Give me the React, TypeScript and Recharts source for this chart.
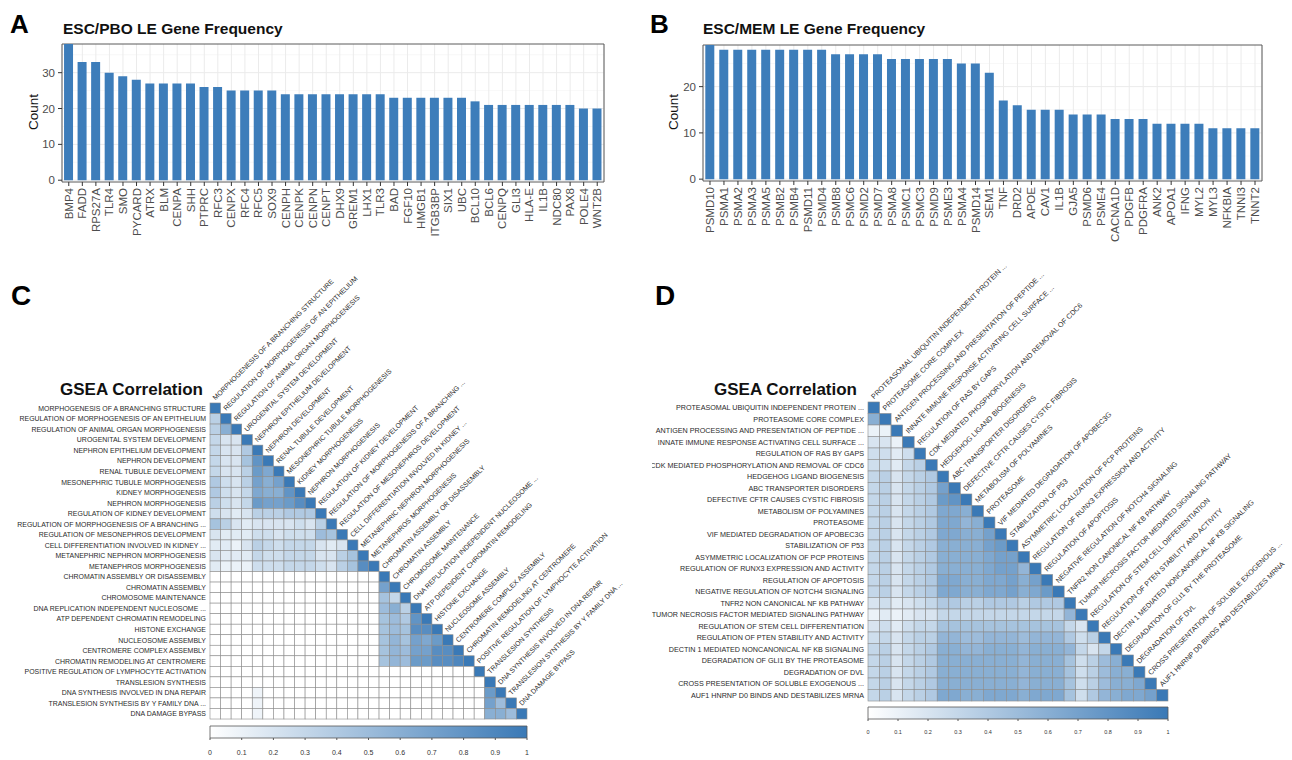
import React from 'react';
import {
  BarChart, Bar, XAxis, YAxis, CartesianGrid, ReferenceArea,
  ScatterChart, Scatter, ComposedChart, Line,
} from 'recharts';

const FONT = '"Liberation Sans", Arial, Helvetica, sans-serif';
const BAR_COLOR = '#3D7DBA';
const HI = [58, 121, 182];

// ---------- Panel A data ----------
const genesA = ['BMP4','FADD','RPS27A','TLR4','SMO','PYCARD','ATRX','BLM','CENPA','SHH','PTPRC','RFC3','CENPX','RFC4','RFC5','SOX9','CENPH','CENPK','CENPN','CENPT','DHX9','GREM1','LHX1','TLR3','BAD','FGF10','HMGB1','ITGB3BP','SIX1','UBC','BCL10','BCL6','CENPQ','GLI3','HLA-E','IL1B','NDC80','PAX8','POLE4','WNT2B'];
const countsA = [38,33,33,30,29,28,27,27,27,27,26,26,25,25,25,25,24,24,24,24,24,24,24,24,23,23,23,23,23,23,22,21,21,21,21,21,21,21,20,20];
const yTicksA = [0, 10, 20, 30];
const yMinorA = [5, 15, 25, 35];

// ---------- Panel B data ----------
const genesB = ['PSMD10','PSMA1','PSMA2','PSMA3','PSMA5','PSMB2','PSMB4','PSMD11','PSMD4','PSMB8','PSMC6','PSMD2','PSMD7','PSMA8','PSMC1','PSMC3','PSMD9','PSME3','PSMA4','PSMD14','SEM1','TNF','DRD2','APOE','CAV1','IL1B','GJA5','PSMD6','PSME4','CACNA1D','PDGFB','PDGFRA','ANK2','APOA1','IFNG','MYL2','MYL3','NFKBIA','TNNI3','TNNT2'];
const countsB = [29,28,28,28,28,28,28,28,28,27,27,27,27,26,26,26,26,26,25,25,23,17,16,15,15,15,14,14,14,13,13,13,12,12,12,12,11,11,11,11];
const yTicksB = [0, 10, 20];
const yMinorB = [5, 15, 25];

// ---------- Panel C data ----------
const termsC = [
  'MORPHOGENESIS OF A BRANCHING STRUCTURE',
  'REGULATION OF MORPHOGENESIS OF AN EPITHELIUM',
  'REGULATION OF ANIMAL ORGAN MORPHOGENESIS',
  'UROGENITAL SYSTEM DEVELOPMENT',
  'NEPHRON EPITHELIUM DEVELOPMENT',
  'NEPHRON DEVELOPMENT',
  'RENAL TUBULE DEVELOPMENT',
  'MESONEPHRIC TUBULE MORPHOGENESIS',
  'KIDNEY MORPHOGENESIS',
  'NEPHRON MORPHOGENESIS',
  'REGULATION OF KIDNEY DEVELOPMENT',
  'REGULATION OF MORPHOGENESIS OF A BRANCHING ...',
  'REGULATION OF MESONEPHROS DEVELOPMENT',
  'CELL DIFFERENTIATION INVOLVED IN KIDNEY ...',
  'METANEPHRIC NEPHRON MORPHOGENESIS',
  'METANEPHROS MORPHOGENESIS',
  'CHROMATIN ASSEMBLY OR DISASSEMBLY',
  'CHROMATIN ASSEMBLY',
  'CHROMOSOME MAINTENANCE',
  'DNA REPLICATION INDEPENDENT NUCLEOSOME ...',
  'ATP DEPENDENT CHROMATIN REMODELING',
  'HISTONE EXCHANGE',
  'NUCLEOSOME ASSEMBLY',
  'CENTROMERE COMPLEX ASSEMBLY',
  'CHROMATIN REMODELING AT CENTROMERE',
  'POSITIVE REGULATION OF LYMPHOCYTE ACTIVATION',
  'TRANSLESION SYNTHESIS',
  'DNA SYNTHESIS INVOLVED IN DNA REPAIR',
  'TRANSLESION SYNTHESIS BY Y FAMILY DNA ...',
  'DNA DAMAGE BYPASS',
];
// lower triangle (row i holds columns 0..i-1); diagonal = 1
const corrC: number[][] = [
  [],
  [0.35],
  [0.35, 0.6],
  [0.3, 0.2, 0.2],
  [0.3, 0.2, 0.2, 0.4],
  [0.3, 0.2, 0.2, 0.45, 0.8],
  [0.3, 0.2, 0.2, 0.35, 0.75, 0.65],
  [0.4, 0.25, 0.2, 0.35, 0.7, 0.6, 0.7],
  [0.4, 0.25, 0.2, 0.3, 0.65, 0.6, 0.6, 0.8],
  [0.35, 0.25, 0.2, 0.3, 0.75, 0.7, 0.7, 0.75, 0.85],
  [0.25, 0.2, 0.15, 0.2, 0.35, 0.35, 0.35, 0.4, 0.4, 0.4],
  [0.45, 0.35, 0.2, 0.15, 0.2, 0.2, 0.2, 0.2, 0.25, 0.2, 0.35],
  [0.2, 0.15, 0.15, 0.15, 0.25, 0.25, 0.2, 0.25, 0.25, 0.25, 0.5, 0.45],
  [0.15, 0.15, 0.1, 0.2, 0.35, 0.3, 0.25, 0.3, 0.3, 0.3, 0.2, 0.15, 0.2],
  [0.2, 0.15, 0.15, 0.15, 0.3, 0.25, 0.25, 0.3, 0.3, 0.3, 0.2, 0.2, 0.35, 0.45],
  [0.15, 0.1, 0.1, 0.1, 0.25, 0.25, 0.25, 0.3, 0.3, 0.3, 0.25, 0.2, 0.35, 0.45, 0.85],
  [0,0,0,0, 0,0,0,0, 0,0,0,0, 0,0,0,0],
  [0,0,0,0, 0,0,0,0, 0,0,0,0, 0,0,0,0, 0.7],
  [0,0,0,0, 0,0,0,0, 0,0,0,0, 0,0,0,0, 0.45, 0.3],
  [0,0,0,0, 0,0,0,0, 0,0,0,0, 0,0,0,0, 0.5, 0.6, 0.35],
  [0,0,0,0, 0,0,0,0, 0,0,0,0, 0,0,0,0, 0.45, 0.5, 0.4, 0.8],
  [0,0,0,0, 0,0,0,0, 0,0,0,0, 0,0,0,0, 0.45, 0.5, 0.45, 0.85, 0.85],
  [0,0,0,0, 0,0,0,0, 0,0,0,0, 0,0,0,0, 0.45, 0.55, 0.45, 0.7, 0.65, 0.75],
  [0,0,0,0, 0,0,0,0, 0,0,0,0, 0,0,0,0, 0.45, 0.55, 0.5, 0.7, 0.7, 0.85, 0.85],
  [0,0,0,0, 0,0,0,0, 0,0,0,0, 0,0,0,0, 0.45, 0.55, 0.5, 0.75, 0.75, 0.85, 0.85, 0.9],
  [0,0,0,0,0, 0,0,0,0,0, 0,0,0,0,0, 0,0,0,0,0, 0,0,0,0,0],
  [0,0,0,0,0, 0,0,0,0,0, 0,0,0,0,0, 0,0,0,0,0, 0,0,0,0,0, 0],
  [0,0,0,0,0.08, 0,0,0,0,0, 0,0,0,0,0, 0,0,0,0,0, 0,0,0,0,0, 0, 0.75],
  [0,0,0,0,0.08, 0,0,0,0,0, 0,0,0,0,0, 0,0,0,0,0, 0,0,0,0,0, 0, 0.7, 0.5],
  [0,0,0,0,0.08, 0,0,0,0,0, 0,0,0,0,0, 0,0,0,0,0, 0,0,0,0,0, 0, 0.6, 0.6, 0.5],
];

// ---------- Panel D data ----------
const termsD = [
  'PROTEASOMAL UBIQUITIN INDEPENDENT PROTEIN ...',
  'PROTEASOME CORE COMPLEX',
  'ANTIGEN PROCESSING AND PRESENTATION OF PEPTIDE ...',
  'INNATE IMMUNE RESPONSE ACTIVATING CELL SURFACE ...',
  'REGULATION OF RAS BY GAPS',
  'CDK MEDIATED PHOSPHORYLATION AND REMOVAL OF CDC6',
  'HEDGEHOG LIGAND BIOGENESIS',
  'ABC TRANSPORTER DISORDERS',
  'DEFECTIVE CFTR CAUSES CYSTIC FIBROSIS',
  'METABOLISM OF POLYAMINES',
  'PROTEASOME',
  'VIF MEDIATED DEGRADATION OF APOBEC3G',
  'STABILIZATION OF P53',
  'ASYMMETRIC LOCALIZATION OF PCP PROTEINS',
  'REGULATION OF RUNX3 EXPRESSION AND ACTIVITY',
  'REGULATION OF APOPTOSIS',
  'NEGATIVE REGULATION OF NOTCH4 SIGNALING',
  'TNFR2 NON CANONICAL NF KB PATHWAY',
  'TUMOR NECROSIS FACTOR MEDIATED SIGNALING PATHWAY',
  'REGULATION OF STEM CELL DIFFERENTIATION',
  'REGULATION OF PTEN STABILITY AND ACTIVITY',
  'DECTIN 1 MEDIATED NONCANONICAL NF KB SIGNALING',
  'DEGRADATION OF GLI1 BY THE PROTEASOME',
  'DEGRADATION OF DVL',
  'CROSS PRESENTATION OF SOLUBLE EXOGENOUS ...',
  'AUF1 HNRNP D0 BINDS AND DESTABILIZES MRNA',
];
const corrD: number[][] = [
  [],
  [0.6],
  [0.1, 0.1],
  [0.2, 0.2, 0.1],
  [0.25, 0.25, 0.15, 0.25],
  [0.25, 0.25, 0.15, 0.3, 0.35],
  [0.3, 0.35, 0.2, 0.3, 0.35, 0.4],
  [0.3, 0.35, 0.2, 0.3, 0.35, 0.4, 0.7],
  [0.3, 0.35, 0.2, 0.3, 0.35, 0.4, 0.75, 0.8],
  [0.3, 0.35, 0.2, 0.3, 0.35, 0.4, 0.65, 0.65, 0.6],
  [0.3, 0.35, 0.2, 0.3, 0.35, 0.4, 0.65, 0.65, 0.55, 0.6],
  [0.3, 0.35, 0.2, 0.3, 0.35, 0.4, 0.65, 0.65, 0.6, 0.6, 0.7],
  [0.3, 0.35, 0.2, 0.3, 0.35, 0.4, 0.6, 0.6, 0.6, 0.6, 0.7, 0.75],
  [0.3, 0.35, 0.2, 0.3, 0.35, 0.4, 0.6, 0.6, 0.6, 0.6, 0.65, 0.7, 0.7],
  [0.3, 0.35, 0.2, 0.3, 0.35, 0.4, 0.6, 0.6, 0.6, 0.6, 0.65, 0.7, 0.7, 0.55],
  [0.3, 0.35, 0.2, 0.3, 0.35, 0.4, 0.65, 0.65, 0.6, 0.6, 0.65, 0.65, 0.7, 0.6, 0.7],
  [0.3, 0.35, 0.2, 0.3, 0.35, 0.4, 0.65, 0.65, 0.6, 0.6, 0.65, 0.65, 0.7, 0.6, 0.65, 0.75],
  [0.2, 0.25, 0.15, 0.2, 0.25, 0.3, 0.4, 0.4, 0.35, 0.35, 0.4, 0.4, 0.4, 0.35, 0.4, 0.4, 0.4],
  [0.1, 0.15, 0.1, 0.15, 0.2, 0.2, 0.3, 0.3, 0.3, 0.3, 0.3, 0.3, 0.3, 0.3, 0.3, 0.3, 0.3, 0.55],
  [0.2, 0.25, 0.15, 0.25, 0.3, 0.3, 0.45, 0.45, 0.45, 0.45, 0.45, 0.45, 0.45, 0.45, 0.45, 0.45, 0.45, 0.3, 0.2],
  [0.25, 0.3, 0.2, 0.3, 0.35, 0.35, 0.55, 0.55, 0.5, 0.5, 0.55, 0.55, 0.55, 0.5, 0.55, 0.55, 0.55, 0.4, 0.25, 0.35],
  [0.3, 0.35, 0.2, 0.3, 0.35, 0.4, 0.6, 0.6, 0.55, 0.55, 0.6, 0.6, 0.6, 0.55, 0.6, 0.6, 0.6, 0.55, 0.3, 0.2, 0.3],
  [0.3, 0.35, 0.2, 0.3, 0.35, 0.4, 0.6, 0.6, 0.6, 0.6, 0.6, 0.6, 0.6, 0.55, 0.6, 0.6, 0.6, 0.45, 0.25, 0.35, 0.5, 0.6],
  [0.3, 0.35, 0.2, 0.3, 0.35, 0.4, 0.6, 0.6, 0.6, 0.6, 0.6, 0.6, 0.6, 0.55, 0.6, 0.6, 0.6, 0.45, 0.25, 0.35, 0.5, 0.6, 0.6],
  [0.3, 0.35, 0.2, 0.3, 0.35, 0.4, 0.6, 0.6, 0.6, 0.6, 0.6, 0.6, 0.6, 0.55, 0.6, 0.6, 0.6, 0.45, 0.25, 0.35, 0.5, 0.6, 0.6, 0.65],
  [0.3, 0.35, 0.2, 0.3, 0.35, 0.4, 0.65, 0.65, 0.6, 0.6, 0.65, 0.65, 0.65, 0.6, 0.65, 0.65, 0.65, 0.45, 0.25, 0.4, 0.55, 0.6, 0.65, 0.65, 0.7],
];

// ---------- colour bar ----------
const colorbarTicks = [0, 0.1, 0.2, 0.3, 0.4, 0.5, 0.6, 0.7, 0.8, 0.9, 1];
const colorbarRange = [{ v: 0, y: 0 }, { v: 1, y: 1 }];

const heat = (v: number) =>
  `rgb(${Math.round(255 + (HI[0] - 255) * v)},${Math.round(255 + (HI[1] - 255) * v)},${Math.round(255 + (HI[2] - 255) * v)})`;

function GeneFrequency(props: any) {
  const { genes, counts, yTicks, yMinor, yMin, yMax, width, height, margin, yAxisWidth, xAxisHeight, gap } = props;
  const data = genes.map((gene: string, i: number) => ({ gene, count: counts[i] }));
  const xTick = (p: any) => (
    <text
      x={p.x}
      y={p.y}
      transform={`rotate(-90, ${p.x}, ${p.y})`}
      textAnchor="end"
      dominantBaseline="central"
      fontSize={11.5}
      fill="#4D4D4D"
      fontFamily={FONT}
    >
      {p.payload.value}
    </text>
  );
  return (
    <BarChart width={width} height={height} data={data} margin={margin} barCategoryGap={gap}>
      <CartesianGrid vertical={false} horizontalValues={yMinor} stroke="#F3F3F3" strokeWidth={0.6} />
      <CartesianGrid horizontal={false} stroke="#EBEBEB" strokeWidth={1} />
      <CartesianGrid vertical={false} horizontalValues={yTicks} stroke="#EBEBEB" strokeWidth={1} />
      <XAxis
        dataKey="gene"
        interval={0}
        tick={xTick}
        tickSize={4}
        tickMargin={2}
        height={xAxisHeight}
        axisLine={false}
        tickLine={{ stroke: '#333' }}
      />
      <YAxis
        type="number"
        domain={[yMin, yMax]}
        ticks={yTicks}
        allowDataOverflow
        width={yAxisWidth}
        tickSize={4}
        tickMargin={3}
        axisLine={false}
        tickLine={{ stroke: '#333' }}
        tick={{ fontSize: 11.5, fill: '#4D4D4D', fontFamily: FONT }}
      />
      <Bar dataKey="count" fill={BAR_COLOR} isAnimationActive={false} />
      <ReferenceArea y1={yMin} y2={yMax} fill="none" stroke="#5A5A5A" strokeWidth={1} ifOverflow="visible" />
    </BarChart>
  );
}

function CorrHeatmap(props: any) {
  const { terms, corr, width, height, margin, yAxisWidth, fontSize } = props;
  const n = terms.length;
  const cell = (width - margin.left - margin.right - yAxisWidth) / n;
  const cells: any[] = [];
  corr.forEach((row: number[], i: number) => {
    row.forEach((v: number, j: number) => {
      if (j < i) cells.push({ col: j, row: i, value: v });
    });
    cells.push({ col: i, row: i, value: 1 });
  });
  const diag = terms.map((label: string, i: number) => ({ col: i, row: i, label }));
  const idx = terms.map((_: string, i: number) => i);

  const CellShape = (p: any) => (
    <rect
      x={p.cx - cell / 2}
      y={p.cy - cell / 2}
      width={cell}
      height={cell}
      fill={heat(p.payload.value)}
      stroke="#8C8C8C"
      strokeWidth={0.6}
    />
  );
  const LabelShape = (p: any) => {
    const x = p.cx + 0.3;
    const y = p.cy - cell / 2 - 2.5;
    return (
      <text x={x} y={y} transform={`rotate(-45, ${x}, ${y})`} fontSize={fontSize} fill="#2A2A2A" fontFamily={FONT}>
        {p.payload.label}
      </text>
    );
  };
  const rowTick = (p: any) => (
    <text x={p.x} y={p.y} textAnchor="end" dominantBaseline="central" fontSize={fontSize} fill="#2A2A2A" fontFamily={FONT}>
      {terms[p.payload.value]}
    </text>
  );
  return (
    <ScatterChart width={width} height={height} margin={margin}>
      <XAxis type="number" dataKey="col" domain={[-0.5, n - 0.5]} hide />
      <YAxis
        type="number"
        dataKey="row"
        domain={[-0.5, n - 0.5]}
        reversed
        ticks={idx}
        interval={0}
        width={yAxisWidth}
        axisLine={false}
        tickLine={false}
        tickSize={0}
        tickMargin={4}
        tick={rowTick}
      />
      <Scatter data={cells} shape={CellShape} isAnimationActive={false} />
      <Scatter data={diag} shape={LabelShape} isAnimationActive={false} />
    </ScatterChart>
  );
}

function ColorBar(props: any) {
  const { id, width, height, margin, fontSize, xAxisHeight, tickMargin } = props;
  return (
    <ComposedChart width={width} height={height} data={colorbarRange} margin={margin}>
      <defs>
        <linearGradient id={id} x1="0" y1="0" x2="1" y2="0">
          <stop offset="0%" stopColor="#FFFFFF" />
          <stop offset="100%" stopColor={heat(1)} />
        </linearGradient>
      </defs>
      <XAxis
        type="number"
        dataKey="v"
        domain={[0, 1]}
        ticks={colorbarTicks}
        interval={0}
        axisLine={false}
        tickSize={2}
        tickMargin={tickMargin}
        height={xAxisHeight}
        tickLine={{ stroke: '#555' }}
        tick={{ fontSize, fill: '#333', fontFamily: FONT }}
      />
      <YAxis type="number" domain={[0, 1]} hide />
      <Line dataKey="y" stroke="none" dot={false} isAnimationActive={false} />
      <ReferenceArea x1={0} x2={1} y1={0} y2={1} fill={`url(#${id})`} fillOpacity={1} stroke="#555" strokeWidth={0.8} />
    </ComposedChart>
  );
}

export default function App() {
  return (
    <div
      style={{
        position: 'absolute', left: 0, top: 0, width: 1292, height: 760,
        background: '#fff', overflow: 'hidden', fontFamily: FONT,
      }}
    >
      <div style={{ position: 'absolute', left: 0, top: 0 }}>
        <GeneFrequency
          genes={genesA} counts={countsA} yTicks={yTicksA} yMinor={yMinorA}
          yMin={-0.5} yMax={38}
          width={620} height={255}
          margin={{ top: 44, right: 16, bottom: 0, left: 0 }}
          yAxisWidth={62} xAxisHeight={73} gap="15%"
        />
      </div>
      <div style={{ position: 'absolute', left: 640, top: 0 }}>
        <GeneFrequency
          genes={genesB} counts={countsB} yTicks={yTicksB} yMinor={yMinorB}
          yMin={-0.4} yMax={29}
          width={640} height={255}
          margin={{ top: 45, right: 18, bottom: 0, left: 0 }}
          yAxisWidth={63} xAxisHeight={74} gap="16.5%"
        />
      </div>

      <div style={{ position: 'absolute', left: 16, top: 270, width: 629, height: 455, overflow: 'hidden' }}>
        <CorrHeatmap
          terms={termsC} corr={corrC}
          width={629} height={455}
          margin={{ top: 133, right: 118, bottom: 6, left: 0 }}
          yAxisWidth={194} fontSize={6.95}
        />
      </div>
      <div style={{ position: 'absolute', left: 0, top: 720 }}>
        <ColorBar
          id="gradC" width={560} height={45}
          margin={{ top: 6, right: 33, bottom: 0, left: 210 }}
          fontSize={7} xAxisHeight={27} tickMargin={10}
        />
      </div>

      <div style={{ position: 'absolute', left: 652, top: 255, width: 640, height: 451, overflow: 'hidden' }}>
        <CorrHeatmap
          terms={termsD} corr={corrD}
          width={640} height={451}
          margin={{ top: 147, right: 124, bottom: 5, left: 0 }}
          yAxisWidth={216} fontSize={7.2}
        />
      </div>
      <div style={{ position: 'absolute', left: 647, top: 700 }}>
        <ColorBar
          id="gradD" width={645} height={40}
          margin={{ top: 7, right: 124, bottom: 0, left: 221 }}
          fontSize={5.5} xAxisHeight={21} tickMargin={9}
        />
      </div>

      <svg
        width={1292}
        height={760}
        style={{ position: 'absolute', left: 0, top: 0, pointerEvents: 'none' }}
        fontFamily={FONT}
      >
        <text x={10} y={33} fontSize={26} fontWeight="bold" fill="#000">A</text>
        <text x={650} y={33} fontSize={26} fontWeight="bold" fill="#000">B</text>
        <text x={11} y={305} fontSize={28} fontWeight="bold" fill="#000">C</text>
        <text x={655} y={305} fontSize={28} fontWeight="bold" fill="#000">D</text>
        <text x={63} y={34} fontSize={15.5} fontWeight="bold" fill="#111">ESC/PBO LE Gene Frequency</text>
        <text x={703} y={34} fontSize={15.5} fontWeight="bold" fill="#111">ESC/MEM LE Gene Frequency</text>
        <text x={38} y={112} fontSize={13.5} fill="#111" textAnchor="middle" transform="rotate(-90, 38, 112)">Count</text>
        <text x={678} y={112} fontSize={13.5} fill="#111" textAnchor="middle" transform="rotate(-90, 678, 112)">Count</text>
        <text x={203} y={395} fontSize={17} fontWeight="bold" fill="#111" textAnchor="end">GSEA Correlation</text>
        <text x={857} y={395} fontSize={17} fontWeight="bold" fill="#111" textAnchor="end">GSEA Correlation</text>
      </svg>
    </div>
  );
}
